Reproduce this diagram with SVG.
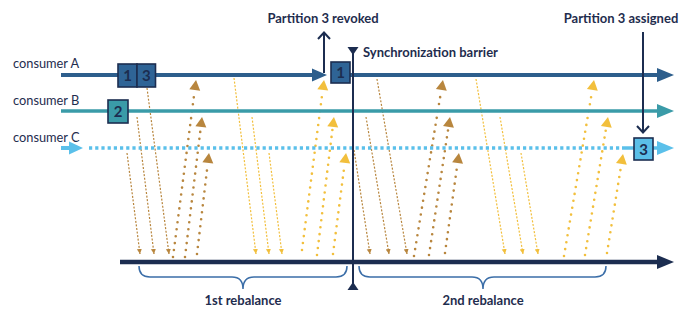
<svg xmlns="http://www.w3.org/2000/svg" width="697" height="316" viewBox="0 0 697 316">
<style>
.lbl{font-family:Lato,"Open Sans","DejaVu Sans",sans-serif;font-size:12.8px;fill:#1F2D4E}
.ttl{font-family:Lato,"Open Sans","DejaVu Sans",sans-serif;font-size:13px;font-weight:bold;fill:#1F2D4E}
.num{font-family:Lato,"Open Sans","DejaVu Sans",sans-serif;font-size:15px;font-weight:bold;fill:#1C2D50;text-anchor:middle}
.box{stroke:#1C2D50;stroke-width:1.6}
.dnB{stroke:#B8863E;stroke-width:1.2;stroke-dasharray:2 1.6;fill:none;marker-end:url(#hB)}
.dnY{stroke:#F2BF3C;stroke-width:1.2;stroke-dasharray:2 1.6;fill:none;marker-end:url(#hY)}
.upB{stroke:#B8863E;stroke-width:2.6;stroke-dasharray:0 7;stroke-linecap:round;fill:none;marker-end:url(#tB)}
.upY{stroke:#F2BF3C;stroke-width:2.6;stroke-dasharray:0 7;stroke-linecap:round;fill:none;marker-end:url(#tY)}
.brace{stroke:#3B6EA8;stroke-width:1.5;fill:none}
.nav{stroke:#1C2D50;stroke-width:2;fill:none}
</style>
<defs>
<marker id="hB" markerUnits="userSpaceOnUse" markerWidth="6" markerHeight="6" refX="5" refY="2.5" orient="auto"><path d="M0,0 L5,2.5 L0,5 z" fill="#B8863E"/></marker>
<marker id="hY" markerUnits="userSpaceOnUse" markerWidth="6" markerHeight="6" refX="5" refY="2.5" orient="auto"><path d="M0,0 L5,2.5 L0,5 z" fill="#F2BF3C"/></marker>
<marker id="tB" markerUnits="userSpaceOnUse" markerWidth="14" markerHeight="12" refX="-2" refY="5.5" orient="auto" overflow="visible"><path d="M0,0 L10,5.5 L0,11 z" fill="#B8863E"/></marker>
<marker id="tY" markerUnits="userSpaceOnUse" markerWidth="14" markerHeight="12" refX="-2" refY="5.5" orient="auto" overflow="visible"><path d="M0,0 L10,5.5 L0,11 z" fill="#F2BF3C"/></marker>
</defs>

<g id="labels">
<text class="lbl" x="13" y="68">consumer A</text>
<text class="lbl" x="13" y="105">consumer B</text>
<text class="lbl" x="13" y="142">consumer C</text>
<text class="ttl" x="323" y="23" text-anchor="middle">Partition 3 revoked</text>
<text class="ttl" x="363" y="57">Synchronization barrier</text>
<text class="ttl" x="621" y="23" text-anchor="middle">Partition 3 assigned</text>
<text class="ttl" x="243" y="305" text-anchor="middle">1st rebalance</text>
<text class="ttl" x="483" y="305" text-anchor="middle">2nd rebalance</text>
</g>

<g id="connectors">
<line class="dnB" x1="127" y1="153" x2="140" y2="254"/>
<line class="dnB" x1="137" y1="117" x2="154" y2="254"/>
<line class="dnB" x1="147" y1="88" x2="169" y2="254"/>
<line class="upB" x1="173" y1="257" x2="194.5" y2="91.9"/>
<line class="upB" x1="185" y1="257" x2="200.6" y2="128.9"/>
<line class="upB" x1="197" y1="254" x2="207.6" y2="164.9"/>
<line class="dnY" x1="234" y1="78" x2="256" y2="254"/>
<line class="dnY" x1="252" y1="117" x2="269" y2="254"/>
<line class="dnY" x1="269" y1="153" x2="282" y2="254"/>
<line class="upY" x1="302" y1="250" x2="322.5" y2="91.9"/>
<line class="upY" x1="317" y1="255" x2="332.5" y2="128.9"/>
<line class="upY" x1="333" y1="254" x2="344.5" y2="164.9"/>
<line class="dnB" x1="354" y1="150" x2="370" y2="254"/>
<line class="dnB" x1="366" y1="117" x2="389" y2="254"/>
<line class="dnB" x1="377" y1="79" x2="407" y2="254"/>
<line class="upB" x1="414" y1="256" x2="441" y2="91.8"/>
<line class="upB" x1="429" y1="255" x2="448.2" y2="128.9"/>
<line class="upB" x1="445" y1="253" x2="457.3" y2="164.9"/>
<line class="dnY" x1="476" y1="79" x2="505" y2="254"/>
<line class="dnY" x1="500" y1="117" x2="523" y2="254"/>
<line class="dnY" x1="521" y1="153" x2="538" y2="254"/>
<line class="upY" x1="564" y1="256" x2="592" y2="91.8"/>
<line class="upY" x1="585" y1="255" x2="606" y2="128.8"/>
<line class="upY" x1="607" y1="253" x2="621.1" y2="165.8"/>
</g>

<g id="consumerA">
<line x1="61" y1="75" x2="314" y2="75" stroke="#2D5E8C" stroke-width="4"/>
<polygon points="312,68.5 327,75 312,81.5" fill="#2D5E8C"/>
<line x1="350" y1="75" x2="660" y2="75" stroke="#2D5E8C" stroke-width="4"/>
<polygon points="657,68 674,75 657,82" fill="#2D5E8C"/>
</g>
<g id="consumerB">
<line x1="61" y1="111" x2="660" y2="111" stroke="#3A9BA8" stroke-width="3.5"/>
<polygon points="657,104 674,111 657,118" fill="#3A9BA8"/>
</g>
<g id="consumerC">
<line x1="61" y1="148" x2="72" y2="148" stroke="#5BC0EA" stroke-width="4"/>
<polygon points="69,141.5 83,148 69,154.5" fill="#5BC0EA"/>
<line x1="89" y1="148" x2="622" y2="148" stroke="#5BC0EA" stroke-width="3.5" stroke-dasharray="3.2 3"/>
<line x1="622" y1="148" x2="660" y2="148" stroke="#5BC0EA" stroke-width="3.5"/>
<polygon points="657,141 674,148 657,155" fill="#5BC0EA"/>
</g>

<g id="timeline">
<line x1="120" y1="262" x2="660" y2="262" stroke="#1C2D50" stroke-width="4.5"/>
<polygon points="657,255 674,262 657,269" fill="#1C2D50"/>
</g>

<g id="barrier">
<line class="nav" x1="353" y1="50" x2="353" y2="287"/>
<polygon points="347.5,47 358.5,47 353,55" fill="#1C2D50"/>
<polygon points="347.5,290 358.5,290 353,282" fill="#1C2D50"/>
</g>

<g id="revoke-arrow">
<line class="nav" x1="324" y1="73" x2="324" y2="32"/>
<polyline class="nav" points="318,39 324,32.5 330,39"/>
</g>
<g id="assign-arrow">
<line class="nav" x1="643" y1="32" x2="643" y2="133"/>
<polyline class="nav" points="637,126 643,132.5 649,126"/>
</g>

<g id="box-A1"><rect class="box" x="118" y="64" width="19" height="23" fill="#2F6496"/><text class="num" x="127.5" y="81">1</text></g>
<g id="box-A3"><rect class="box" x="137" y="64" width="18.5" height="23" fill="#2F6496"/><text class="num" x="146.3" y="81">3</text></g>
<g id="box-B2"><rect class="box" x="108" y="100" width="20" height="23" fill="#3A9BA8"/><text class="num" x="118" y="117">2</text></g>
<g id="box-A1b"><rect class="box" x="331" y="62" width="19" height="21" fill="#2F6496"/><text class="num" x="340.5" y="78">1</text></g>
<g id="box-C3"><rect class="box" x="634" y="138" width="19" height="22" fill="#5BBFE8"/><text class="num" x="643.5" y="154.5">3</text></g>

<g id="braces">
<path class="brace" d="M139,266 Q139,277 150,277 L232,277 Q243,277 243,289 Q243,277 254,277 L336,277 Q347,277 347,266"/>
<path class="brace" d="M359,266 Q359,277 370,277 L472,277 Q483,277 483,289 Q483,277 494,277 L595,277 Q606,277 606,266"/>
</g>
</svg>
